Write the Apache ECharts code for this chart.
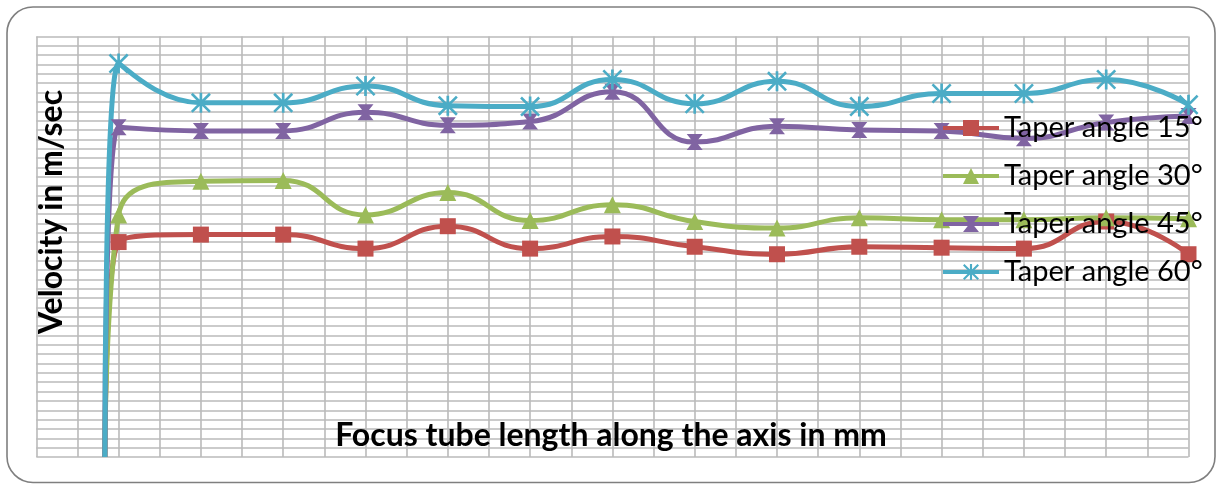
<!DOCTYPE html>
<html>
<head>
<meta charset="utf-8">
<script src="https://cdn.jsdelivr.net/npm/echarts@6/dist/echarts.min.js"></script>
<style>
  html, body { margin: 0; padding: 0; background: #ffffff; }
  #chart { width: 1217px; height: 484px; }
</style>
</head>
<body>
<div id="chart"></div>
<script>
// Focus tube length positions (mm, arbitrary — no tick labels in the original)
const lengths = [5, 6, 12, 18, 24, 30, 36, 42, 48, 54, 60, 66, 72, 78, 84];
const seriesNames = ['Taper angle 15°', 'Taper angle 30°', 'Taper angle 45°', 'Taper angle 60°'];
// Velocity values (m/sec)
const taper15 = [0, 230, 238, 238, 223, 247, 223, 236, 225, 217, 225, 224, 223, 252, 217];
const taper30 = [0, 259, 295, 296, 259, 283, 253, 270, 252, 245, 256, 254, 254, 256, 255];
const taper45 = [0, 353, 349, 349, 369, 355, 359, 391, 337, 354, 350, 349, 341, 358, 365];
const taper60 = [0, 421, 379, 379, 397, 376, 375, 404, 378, 402, 375, 389, 389, 404, 377];
const xTitle = 'Focus tube length along the axis in mm';
const yTitle = 'Velocity in m/sec';

const colors = ['#C0504D', '#9BBB59', '#8064A2', '#4BACC6'];
const symbols = [
  'rect',
  'triangle',
  'path://M0,0 L12,0 L7.2,6 L12,12 L0,12 L4.8,6 Z',
  'path://M5.2,0 L6.8,0 L6.8,12 L5.2,12 Z M0,1.1 L1.1,0 L12,10.9 L10.9,12 Z M10.9,0 L12,1.1 L1.1,12 L0,10.9 Z'
];
const sizes = [16, 17, 16, 20];
const allValues = [taper15, taper30, taper45, taper60];

function build(vals) {
  return vals.map((v, i) => i === 0
    ? { value: [lengths[i], v], symbol: 'none' }
    : [lengths[i], v]);
}

const chart = echarts.init(document.getElementById('chart'), null, { renderer: 'canvas' });
const font = 'Lato, "Open Sans", sans-serif';
chart.setOption({
  animation: false,
  backgroundColor: '#ffffff',
  grid: { left: 36.3, right: 28.5, top: 36.5, bottom: 27, containLabel: false },
  xAxis: {
    type: 'value', min: 0, max: 84, interval: 3,
    axisLine: { show: false }, axisTick: { show: false }, axisLabel: { show: false },
    splitLine: { show: true, lineStyle: { color: '#bababa', width: 1.6 } }
  },
  yAxis: {
    type: 'value', min: 0, max: 450, interval: 10,
    axisLine: { show: false }, axisTick: { show: false }, axisLabel: { show: false },
    splitLine: { show: true, lineStyle: { color: '#bababa', width: 1.6 } }
  },
  legend: {
    orient: 'vertical', left: 941, top: 113, padding: 0,
    itemWidth: 56, itemHeight: 20, itemGap: 18,
    lineStyle: { width: 4 },
    textStyle: { fontFamily: font, fontSize: 29, color: '#000', lineHeight: 30 },
    data: seriesNames
  },
  graphic: [
    { type: 'rect', shape: { x: 7, y: 7, width: 1208, height: 475.5, r: 26 },
      style: { fill: 'none', stroke: '#7f7f7f', lineWidth: 1.6 }, z: 100 },
    { type: 'text', x: 52, y: 212, rotation: Math.PI / 2,
      style: { text: yTitle, fontFamily: font, fontWeight: 'bold', fontSize: 32, fill: '#000',
               textAlign: 'center', textVerticalAlign: 'middle' }, z: 100 },
    { type: 'text', x: 611, y: 436,
      style: { text: xTitle, fontFamily: font, fontWeight: 'bold', fontSize: 32, fill: '#000',
               textAlign: 'center', textVerticalAlign: 'middle' }, z: 100 }
  ],
  series: allValues.map((vals, k) => ({
    name: seriesNames[k],
    type: 'line',
    smooth: 0.5,
    data: build(vals),
    symbol: symbols[k],
    symbolSize: sizes[k],
    clip: false,
    lineStyle: { color: colors[k], width: 5 },
    itemStyle: { color: colors[k] }
  }))
});
</script>
</body>
</html>
